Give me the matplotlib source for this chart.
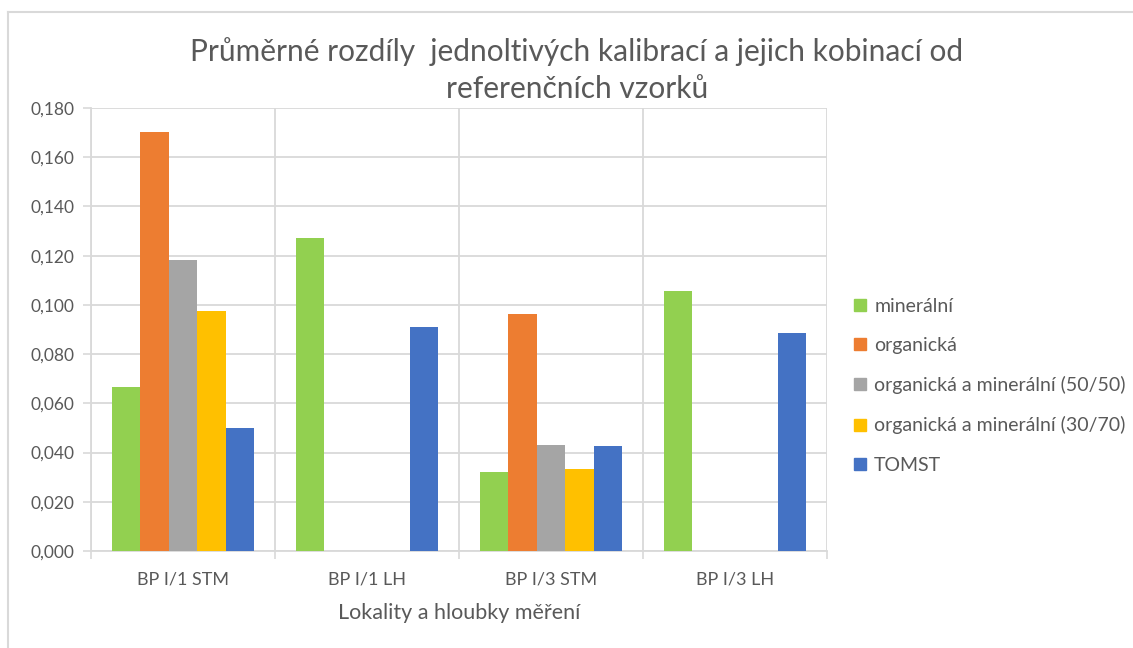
import numpy as np
import matplotlib
matplotlib.use("Agg")
import matplotlib.pyplot as plt
from matplotlib.ticker import FuncFormatter, FixedLocator
from matplotlib.lines import Line2D

plt.rcParams['font.family'] = ['Lato', 'DejaVu Sans']

categories = ["BP I/1 STM", "BP I/1 LH", "BP I/3 STM", "BP I/3 LH"]
series_names = ["minerální", "organická", "organická a minerální (50/50)",
                "organická a minerální (30/70)", "TOMST"]
mineralni = [0.0665, 0.127, 0.032, 0.1057]
organicka = [0.1704, np.nan, 0.0962, np.nan]
om_50_50 = [0.1182, np.nan, 0.0431, np.nan]
om_30_70 = [0.0975, np.nan, 0.0333, np.nan]
tomst = [0.0499, 0.091, 0.0427, 0.0885]
values = [mineralni, organicka, om_50_50, om_30_70, tomst]
colors = ["#92D050", "#ED7D31", "#A5A5A5", "#FFC000", "#4472C4"]

title = "Průměrné rozdíly  jednoltivých kalibrací a jejich kobinací od\nreferenčních vzorků"
xlabel = "Lokality a hloubky měření"

txt = "#595959"
grid = "#D9D9D9"

fig = plt.figure(figsize=(11.33, 6.48), dpi=100)
ax = fig.add_axes([91/1133, 1-551/648, (827-91)/1133, (551-108)/648])

n = len(series_names)
bw = 0.154
x = np.arange(len(categories))
for i, (name, vals, c) in enumerate(zip(series_names, values, colors)):
    ax.bar(x + (i - (n-1)/2)*bw, vals, width=bw, color=c, label=name, zorder=3)

ax.set_xlim(-0.5, len(categories)-0.5)
ax.set_ylim(0, 0.18)
ax.set_yticks(np.arange(0, 0.1801, 0.02))
ax.yaxis.set_major_formatter(FuncFormatter(lambda v, p: f"{v:.3f}".replace(".", ",")))
ax.set_xticks(x)
ax.set_xticklabels(categories)
ax.xaxis.set_minor_locator(FixedLocator(np.arange(-0.5, len(categories), 1.0)))
ax.tick_params(axis='x', which='major', length=0, pad=15, labelsize=13, labelcolor=txt)
ax.tick_params(axis='x', which='minor', length=6, width=1.2, color=grid, direction='out')
ax.tick_params(axis='y', length=6, width=1.2, color=grid, labelsize=12.5, labelcolor=txt, pad=6)

ax.grid(True, axis='y', color=grid, linewidth=1.3, zorder=0)
ax.grid(True, axis='x', which='minor', color=grid, linewidth=1.3, zorder=0)
for s in ['top', 'right']:
    ax.spines[s].set_visible(False)
ax.spines['left'].set_color(grid)
ax.spines['left'].set_linewidth(1.3)
ax.spines['bottom'].set_color(grid)
ax.spines['bottom'].set_linewidth(1.3)
ax.set_axisbelow(True)

fig.text(577/1133, 1-70/648, title, ha='center', va='center', fontsize=21.5,
         color=txt, linespacing=1.36)
fig.text(459/1133, 1-613/648, xlabel, ha='center', va='center', fontsize=15.5, color=txt)

handles = [Line2D([0], [0], marker='s', linestyle='none', markersize=8,
                  markerfacecolor=c, markeredgecolor=c) for c in colors]
leg = fig.legend(handles, series_names, loc='upper left',
                 bbox_to_anchor=(845/1133, 1-290/648), frameon=False,
                 fontsize=14, labelcolor=txt, handlelength=0.7,
                 handletextpad=0.4, labelspacing=1.14, borderaxespad=0)

# chart border (left and top edges)
fig.add_artist(Line2D([8/1133, 8/1133], [0, 1-12/648], color=grid, linewidth=1.5,
                      transform=fig.transFigure))
fig.add_artist(Line2D([8/1133, 1], [1-12/648, 1-12/648], color=grid, linewidth=1.5,
                      transform=fig.transFigure))

fig.savefig("out.png", dpi=100, facecolor='white')
